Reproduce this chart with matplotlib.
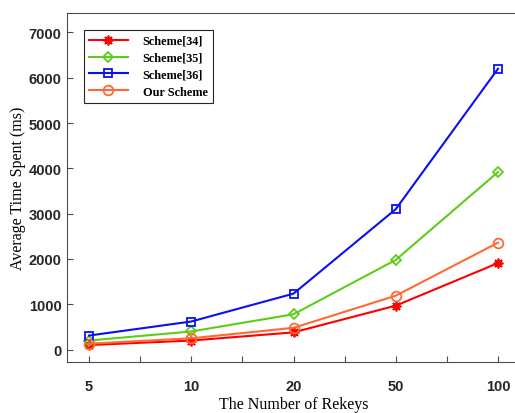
import numpy as np
import matplotlib
matplotlib.use('Agg')
import matplotlib.pyplot as plt

# Data ~~~~~~~~~~~~~~~~~~~~~~~~~~~~~~~~~~~~~~~~~~~~~~~~~~~~~~~~~~~~~~~~~~~~~~~~~~~
rekeys = ['5', '10', '20', '50', '100']
scheme34 = [100, 200, 380, 970, 1910]
scheme35 = [200, 400, 780, 1980, 3920]
scheme36 = [310, 620, 1235, 3100, 6200]
ours = [130, 250, 480, 1190, 2360]

x = np.arange(1, len(rekeys) + 1)

# Plot ~~~~~~~~~~~~~~~~~~~~~~~~~~~~~~~~~~~~~~~~~~~~~~~~~~~~~~~~~~~~~~~~~~~~~~~~~~~
fig = plt.figure(figsize=(5.15, 4.14), dpi=100)
ax = fig.add_axes([67.3/515, 0.1225, 452.4/515, 0.8437])

lw = 1.5
ax.plot(x, scheme34, color='#FF0000', lw=lw, marker=(8, 2, 0), ms=7, mew=1.3, label='Scheme[34]')
ax.plot(x, scheme35, color='#5FCC17', lw=lw, marker='D', ms=5.5, mfc='none', mew=1.3, label='Scheme[35]')
ax.plot(x, scheme36, color='#0A10F0', lw=lw, marker='s', ms=6, mfc='none', mew=1.3, label='Scheme[36]')
ax.plot(x, ours, color='#FF6A33', lw=lw, marker='o', ms=7, mfc='none', mew=1.3, label='Our Scheme')

ax.set_xlim(0.788, 5.212)
ax.set_ylim(-280, 7430)
ax.set_xticks(x)
ax.set_xticks(np.arange(1.5, 5.5, 1), minor=True)
ax.set_xticklabels(rekeys)
ax.set_yticks(np.arange(0, 7001, 1000))

for s in ax.spines.values():
    s.set_color('#4D4D4D')
    s.set_linewidth(0.8)
ax.spines['right'].set_visible(False)
ax.tick_params(direction='in', length=4, width=0.8, color='#4D4D4D', right=False)
ax.tick_params(axis='x', which='minor', direction='in', length=4, width=0.8, color='#4D4D4D')
ax.tick_params(axis='x', pad=12)
ax.tick_params(axis='y', pad=4)
for lab in ax.get_xticklabels() + ax.get_yticklabels():
    lab.set_fontfamily('Liberation Sans')
    lab.set_fontweight('bold')
    lab.set_fontsize(10.5)
    lab.set_color('#262626')

ax.set_xlabel('The Number of Rekeys', family='Liberation Serif', fontsize=11.5, labelpad=2)
ax.set_ylabel('Average Time Spent (ms)', family='Liberation Serif', fontsize=11.5, labelpad=2)

leg = ax.legend(loc='upper left', bbox_to_anchor=(0.037, 0.951), borderaxespad=0,
                prop={'family': 'Liberation Serif', 'weight': 'bold', 'size': 8.8},
                fancybox=False, edgecolor='#262626', framealpha=1, handlelength=3.2,
                borderpad=0.4, labelspacing=0.4, handletextpad=1.2)
leg.get_frame().set_linewidth(0.8)

plt.savefig('out.png', dpi=100)
